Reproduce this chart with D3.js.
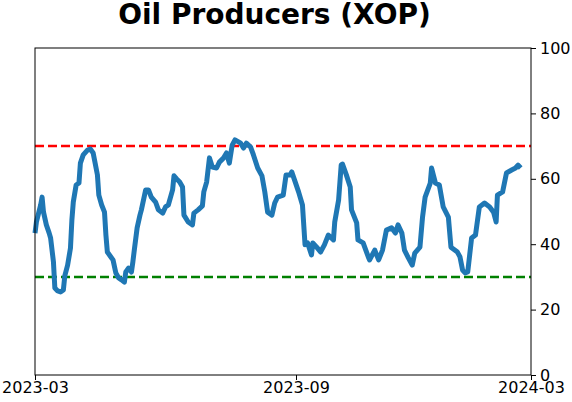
<!DOCTYPE html>
<html>
<head>
<meta charset="utf-8">
<script src="https://cdn.jsdelivr.net/npm/d3@7/dist/d3.min.js"></script>
<style>
  body { margin: 0; background: #fff; }
  svg { display: block; font-family: "DejaVu Sans", sans-serif; }
</style>
</head>
<body>
<svg id="chart" width="572" height="402"></svg>
<script>
// ---- data ----
const title = "Oil Producers (XOP)";
const startDate = "2023-03-01";
// days since startDate
const dayOffsets = [0,1,4,5,6,8,10,11,13,14,16,18,20,21,23,25,26,27,29,31,32,34,37,39,41,42,44,45,47,49,50,51,54,55,57,59,61,63,64,66,68,69,70,72,74,75,78,80,82,85,87,90,92,94,97,98,100,102,104,105,108,111,112,115,118,119,121,123,125,128,130,133,135,137,139,141,145,147,149,152,154,157,160,162,164,167,169,171,175,177,180,181,183,186,189,191,193,196,197,200,203,206,209,213,214,217,219,220,223,226,227,231,232,236,240,241,245,248,251,254,258,261,263,266,268,271,274,276,280,282,284,288,289,292,295,298,302,304,309,311,313,315,317,320,323,326,330,334,337,339,340,344,347,351,354,356,358];
const values = [43.4,46.8,52.0,54.4,49.8,45.9,43.4,41.9,34.6,26.6,25.7,25.4,26.0,30.3,33.6,38.8,47.4,52.9,58.1,58.7,64.8,67.3,68.8,69.1,67.9,65.7,61.2,55.0,52.0,49.8,42.8,37.6,35.8,35.2,31.2,29.7,29.1,28.4,31.5,32.7,31.5,34.6,38.2,45.0,48.9,50.5,56.6,56.6,54.4,52.9,50.5,49.5,51.4,52.0,56.6,60.9,59.9,59.0,57.5,48.9,46.8,45.9,49.5,50.5,51.7,56.0,59.0,66.4,63.6,63.3,65.1,66.4,67.9,64.8,70.3,71.9,70.9,69.4,70.9,69.7,67.3,63.3,60.9,56.0,49.8,48.9,52.6,54.4,55.0,61.2,61.2,62.1,59.6,56.0,52.0,39.8,40.4,36.7,40.4,39.1,37.6,39.8,42.8,41.3,46.8,53.5,64.2,64.5,61.2,57.5,50.5,46.5,41.3,40.4,36.1,35.2,38.2,35.2,38.2,44.3,45.0,43.4,45.9,43.4,38.2,35.8,33.6,37.3,39.1,48.3,54.4,58.7,63.3,58.7,58.1,51.4,48.3,39.1,37.6,36.1,32.1,31.2,31.5,41.9,42.8,51.4,52.6,51.4,49.8,46.8,55.0,56.0,61.8,62.7,63.3,64.2,63.3];
const xTickLabels = ["2023-03", "2023-09", "2024-03"];
const yTicks = [0, 20, 40, 60, 80, 100];
const upperLevel = 70;
const lowerLevel = 30;

// ---- layout ----
const svg = d3.select("#chart");
const mLeft = 35, mRight = 531, mTop = 48, mBottom = 375;

const parse = d3.utcParse("%Y-%m-%d");
const t0 = parse(startDate);
const dates = dayOffsets.map(d => d3.utcDay.offset(t0, d));
const tickDates = xTickLabels.map(s => d3.utcParse("%Y-%m")(s));

const x = d3.scaleUtc()
  .domain(tickDates)
  .range([mLeft, 296, mRight]);
const y = d3.scaleLinear().domain([0, 100]).range([mBottom, mTop]);

// threshold lines
svg.append("line")
  .attr("x1", mLeft).attr("x2", mRight)
  .attr("y1", y(upperLevel)).attr("y2", y(upperLevel))
  .attr("stroke", "#ff0000").attr("stroke-width", 2.5)
  .attr("stroke-dasharray", "9,4");
svg.append("line")
  .attr("x1", mLeft).attr("x2", mRight)
  .attr("y1", y(lowerLevel)).attr("y2", y(lowerLevel))
  .attr("stroke", "#008000").attr("stroke-width", 2.5)
  .attr("stroke-dasharray", "9,4");

// series line
const line = d3.line()
  .x((d, i) => x(dates[i]))
  .y(d => y(d));
svg.append("path")
  .datum(values)
  .attr("d", line)
  .attr("fill", "none")
  .attr("stroke", "#1f77b4")
  .attr("stroke-width", 5)
  .attr("stroke-linejoin", "round")
  .attr("stroke-linecap", "butt");

// frame
svg.append("rect")
  .attr("x", mLeft).attr("y", mTop)
  .attr("width", mRight - mLeft).attr("height", mBottom - mTop)
  .attr("fill", "none").attr("stroke", "#000").attr("stroke-width", 1);

// axes
const xAxis = d3.axisBottom(x)
  .tickValues(tickDates)
  .tickFormat((d, i) => xTickLabels[i])
  .tickSizeOuter(0).tickSize(5).tickPadding(2);
const gx = svg.append("g").attr("transform", `translate(0,${mBottom})`).call(xAxis);
gx.select(".domain").remove();
gx.selectAll("text").attr("font-size", 16).attr("font-family", "DejaVu Sans").attr("fill", "#000");

const yAxis = d3.axisRight(y)
  .tickValues(yTicks)
  .tickSizeOuter(0).tickSize(5).tickPadding(4);
const gy = svg.append("g").attr("transform", `translate(${mRight},0)`).call(yAxis);
gy.select(".domain").remove();
gy.selectAll("text").attr("font-size", 16).attr("font-family", "DejaVu Sans").attr("fill", "#000");

// title
svg.append("text")
  .attr("x", 274.5).attr("y", 24)
  .attr("text-anchor", "middle")
  .attr("font-size", 28).attr("font-weight", "bold")
  .attr("font-family", "DejaVu Sans")
  .text(title);
</script>
</body>
</html>
